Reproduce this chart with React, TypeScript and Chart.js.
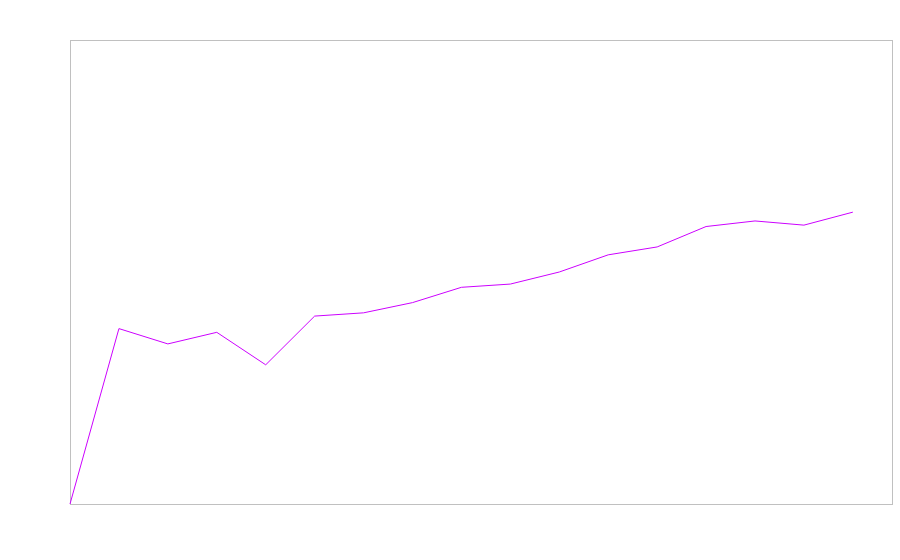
import React, { useEffect, useRef } from "react";
import { Chart, registerables } from "chart.js";

Chart.register(...registerables);

const xValues = [0, 1, 2, 3, 4, 5, 6, 7, 8, 9, 10, 11, 12, 13, 14, 15, 16];
const seriesValues = [0, 37.8, 34.5, 37.0, 30.0, 40.5, 41.2, 43.4, 46.7, 47.4, 50.0, 53.7, 55.4, 59.8, 61.0, 60.1, 62.9];

const frameBox = {
  id: "frameBox",
  beforeDatasetsDraw(chart: any) {
    const { ctx, chartArea } = chart;
    ctx.save();
    ctx.strokeStyle = "#c0c0c0";
    ctx.lineWidth = 1;
    ctx.strokeRect(
      Math.round(chartArea.left) + 0.5,
      Math.round(chartArea.top) + 0.5,
      Math.round(chartArea.right - chartArea.left),
      Math.round(chartArea.bottom - chartArea.top)
    );
    ctx.restore();
  },
};

export default function App() {
  const ref = useRef<HTMLCanvasElement>(null);
  useEffect(() => {
    if (!ref.current) return;
    const chart = new Chart(ref.current, {
      type: "line",
      data: {
        datasets: [
          {
            data: xValues.map((x, i) => ({ x, y: seriesValues[i] })),
            borderColor: "#cc00ff",
            borderWidth: 1,
            pointRadius: 0,
            tension: 0,
            fill: false,
            clip: 4,
          },
        ],
      },
      options: {
        animation: false,
        responsive: true,
        maintainAspectRatio: false,
        layout: { padding: { left: 70, top: 40, right: 8, bottom: 56 } },
        plugins: { legend: { display: false }, tooltip: { enabled: false } },
        scales: {
          x: { type: "linear", min: 0, max: 16.8, display: false },
          y: { min: 0, max: 100, display: false },
        },
      },
      plugins: [frameBox],
    });
    return () => chart.destroy();
  }, []);
  return (
    <div style={{ position: "fixed", left: 0, top: 0, width: 900, height: 560 }}>
      <canvas ref={ref} />
    </div>
  );
}
